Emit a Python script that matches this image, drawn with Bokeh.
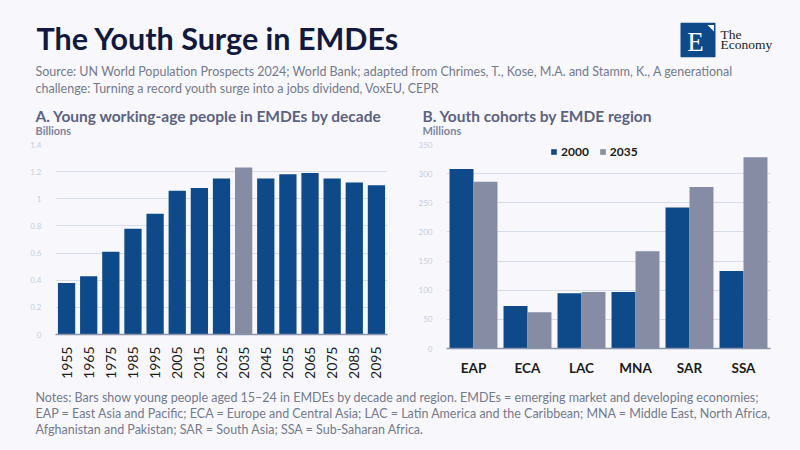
from math import pi
from bokeh.plotting import figure
from bokeh.layouts import column, row
from bokeh.models import (Range1d, FactorRange, NumeralTickFormatter, FixedTicker,
                          Legend, LegendItem, ColumnDataSource)
from bokeh.transform import dodge
from bokeh.core.properties import value
from bokeh.embed import file_html
from bokeh.resources import INLINE

# ---------------- data ----------------
decades = ["1955", "1965", "1975", "1985", "1995", "2005", "2015", "2025",
           "2035", "2045", "2055", "2065", "2075", "2085", "2095"]
youth_billions = [0.38, 0.43, 0.61, 0.78, 0.89, 1.06, 1.08, 1.15,
                  1.23, 1.15, 1.18, 1.19, 1.15, 1.12, 1.10]
highlight_decade = "2035"

regions = ["EAP", "ECA", "LAC", "MNA", "SAR", "SSA"]
cohort_2000 = [308, 73, 95, 97, 242, 133]
cohort_2035 = [286, 62, 97, 167, 277, 328]
series_labels = ["2000", "2035"]

left_ticks = [0, 0.2, 0.4, 0.6, 0.8, 1.0, 1.2, 1.4]
right_ticks = [0, 50, 100, 150, 200, 250, 300, 350]

title_text = "The Youth Surge in EMDEs"
source_lines = [
    "Source: UN World Population Prospects 2024; World Bank; adapted from Chrimes, T., Kose, M.A. and Stamm, K., A generational",
    "challenge: Turning a record youth surge into a jobs dividend, VoxEU, CEPR",
]
panel_a_title = "A. Young working-age people in EMDEs by decade"
panel_b_title = "B. Youth cohorts by EMDE region"
note_lines = [
    "Notes: Bars show young people aged 15\u201324 in EMDEs by decade and region. EMDEs = emerging market and developing economies;",
    "EAP = East Asia and Pacific; ECA = Europe and Central Asia; LAC = Latin America and the Caribbean; MNA = Middle East, North Africa,",
    "Afghanistan and Pakistan; SAR = South Asia; SSA = Sub-Saharan Africa.",
]

# ---------------- style ----------------
BG = "#f8f8fc"
BLUE = "#0e4a89"
GRAY = "#858ca4"
TITLE_C = "#111a3e"
PANEL_C = "#5b6282"
SRC_C = "#737a8c"
TICK_C = "#c5cde0"
GRID_C = "#d6dcea"
AXIS_C = "#8a93ab"
FONT = "Lato"
W = 800


def blank(width, height):
    f = figure(width=width, height=height, x_range=Range1d(0, width),
               y_range=Range1d(height, 0), output_backend="svg",
               toolbar_location=None, x_axis_type=None, y_axis_type=None,
               min_border=0)
    f.grid.visible = False
    f.outline_line_color = None
    f.background_fill_color = BG
    f.border_fill_color = BG
    return f


# ---------------- header ----------------
HH = 136
hdr = blank(W, HH)
hdr.text(x=[36], y=[37.5], text=[title_text], text_font=value(FONT),
         text_font_style="bold", text_font_size="30.5px", text_color=TITLE_C,
         text_baseline="alphabetic")
hdr.text(x=[35, 35], y=[71, 87.7], text=source_lines, text_font=value(FONT),
         text_font_size="12.5px", text_color=SRC_C, text_baseline="alphabetic")
hdr.text(x=[35, 422], y=[115, 115], text=[panel_a_title, panel_b_title],
         text_font=value(FONT), text_font_style="bold", text_font_size="15.5px",
         text_color=PANEL_C, text_baseline="alphabetic")
hdr.text(x=[35, 422], y=[130, 130], text=["Billions", "Millions"],
         text_font=value(FONT), text_font_style="bold", text_font_size="11px",
         text_color="#7d84a0", text_baseline="alphabetic")
# logo
hdr.rect(x=[697.5], y=[39.5], width=[35], height=[34.4], fill_color=BLUE,
         line_color=None)
hdr.patch(x=[707, 713.5, 713.5], y=[24.5, 24.5, 31], fill_color="white",
          line_color=None)
hdr.text(x=[695], y=[41], text=["E"], text_font=value("Liberation Serif"),
         text_font_size="27px", text_color="white", text_align="center",
         text_baseline="alphabetic")
hdr.text(x=[720, 720], y=[34, 44.4], text=["The", "Economy"],
         text_font=value("Liberation Serif"), text_font_size="13.5px",
         text_color="#222222", text_baseline="alphabetic")

# ---------------- left chart ----------------
CH = 249
p1 = figure(width=404, height=CH, x_range=FactorRange(*decades, range_padding=0),
            y_range=Range1d(0, 1.4), output_backend="svg", toolbar_location=None,
            min_border_left=55, min_border_right=17, min_border_top=8,
            min_border_bottom=51)
src1 = ColumnDataSource(dict(
    decade=decades, value=youth_billions,
    color=[GRAY if d == highlight_decade else BLUE for d in decades]))
p1.vbar(x="decade", top="value", width=0.78, fill_color="color",
        line_color=None, source=src1)

# ---------------- right chart ----------------
p2 = figure(width=396, height=CH, x_range=FactorRange(*regions, range_padding=0),
            y_range=Range1d(0, 350), output_backend="svg", toolbar_location=None,
            min_border_left=42, min_border_right=30, min_border_top=8,
            min_border_bottom=37)
src2 = ColumnDataSource(dict(region=regions, a=cohort_2000, b=cohort_2035))
r_a = p2.vbar(x=dodge("region", -0.222, range=p2.x_range), top="a", width=0.444,
              fill_color=BLUE, line_color=None, source=src2)
r_b = p2.vbar(x=dodge("region", 0.222, range=p2.x_range), top="b", width=0.444,
              fill_color=GRAY, line_color=None, source=src2)
legend = Legend(items=[LegendItem(label=series_labels[0], renderers=[r_a]),
                       LegendItem(label=series_labels[1], renderers=[r_b])],
                orientation="horizontal", location=(104, 189),
                glyph_width=7, glyph_height=7, label_standoff=4, spacing=10,
                padding=0, margin=0, label_height=12,
                label_text_font=FONT, label_text_font_style="bold",
                label_text_font_size="12px", label_text_color="#1a1a1a",
                background_fill_alpha=0, border_line_color=None)
p2.add_layout(legend)

for p, ticks in ((p1, left_ticks), (p2, right_ticks)):
    p.background_fill_color = BG
    p.border_fill_color = BG
    p.outline_line_color = None
    p.xgrid.grid_line_color = None
    p.ygrid.grid_line_color = GRID_C
    p.ygrid.grid_line_width = 1
    p.yaxis.ticker = FixedTicker(ticks=ticks)
    p.yaxis.axis_line_color = None
    p.yaxis.major_tick_line_color = None
    p.yaxis.minor_tick_line_color = None
    p.yaxis.major_label_text_color = TICK_C
    p.yaxis.major_label_text_font = FONT
    p.yaxis.major_label_text_font_size = "8px"
    p.yaxis.major_label_standoff = 8
    p.xaxis.axis_line_color = AXIS_C
    p.xaxis.axis_line_width = 1.5
    p.xaxis.major_tick_line_color = None
    p.xaxis.minor_tick_line_color = None
    p.xaxis.major_label_text_font = FONT
    p.xaxis.major_label_text_color = "#1c1c1c"

p1.yaxis.formatter = NumeralTickFormatter(format="0.[0]")
p1.xaxis.major_label_orientation = pi / 2
p1.xaxis.major_label_text_font_size = "14px"
p1.xaxis.major_label_standoff = 6
p2.xaxis.major_label_text_font_size = "13.5px"
p2.xaxis.major_label_text_font_style = "bold"
p2.xaxis.major_label_standoff = 5

# ---------------- footer ----------------
FH = 65
ftr = blank(W, FH)
ftr.text(x=[35, 35, 35], y=[11.7, 27.7, 43.7], text=note_lines,
         text_font=value(FONT), text_font_size="12.5px", text_color=SRC_C,
         text_baseline="alphabetic")

charts = row(column(p1, spacing=0), column(p2, spacing=0), spacing=0)
layout = column(hdr, charts, ftr, spacing=0)
layout.styles = {"background-color": BG}

open("out.html", "w").write(file_html(layout, INLINE, title="The Youth Surge in EMDEs"))
